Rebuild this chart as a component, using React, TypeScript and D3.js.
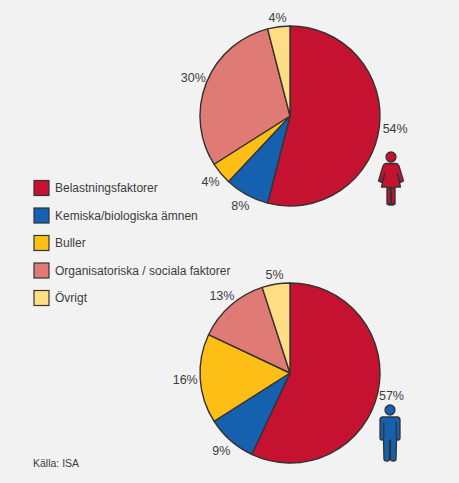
import * as d3 from "d3";

const categories = [
  "Belastningsfaktorer",
  "Kemiska/biologiska ämnen",
  "Buller",
  "Organisatoriska / sociala faktorer",
  "Övrigt",
];
const colors = ["#c41230", "#1660b0", "#fdbf16", "#e07a74", "#fedd84"];
const womenValues = [54, 8, 4, 30, 4];
const menValues = [57, 9, 16, 13, 5];
const source = "Källa: ISA";

const W = 459;
const H = 483;
const INK = "#333333";
const TEXT = "#3c3c3c";
const FONT = "Arial, 'Liberation Sans', sans-serif";

const radius = 90;
const pie = d3.pie<number>().sort(null).value((d) => d);
const arc = d3.arc<d3.PieArcDatum<number>>().innerRadius(0).outerRadius(radius);

const legendY = d3
  .scalePoint<string>()
  .domain(categories)
  .range([188, 298]);

// label offsets are nudged by hand per slice, radial placement alone overlaps the rim
function Pie({
  cx,
  cy,
  values,
  labelR,
}: {
  cx: number;
  cy: number;
  values: number[];
  labelR: number[];
}) {
  const slices = pie(values);
  return (
    <g transform={`translate(${cx},${cy})`}>
      {slices.map((s, i) => (
        <path key={i} d={arc(s) ?? ""} fill={colors[i]} stroke={INK} strokeWidth={1.4} strokeLinejoin="round" />
      ))}
      {slices.map((s, i) => {
        const mid = (s.startAngle + s.endAngle) / 2;
        const r = labelR[i];
        return (
          <text
            key={i}
            x={Math.sin(mid) * r}
            y={-Math.cos(mid) * r}
            textAnchor="middle"
            dominantBaseline="central"
            fontSize={12.5}
            fill={TEXT}
          >
            {`${values[i]}%`}
          </text>
        );
      })}
    </g>
  );
}

function Woman({ x, y }: { x: number; y: number }) {
  return (
    <g transform={`translate(${x},${y})`} fill={colors[0]} stroke={INK} strokeWidth={1.3} strokeLinejoin="round">
      <circle cx={0} cy={6} r={5} />
      <path d="M-5,12.5 L5,12.5 Q7,12.5 8,15 L12.5,30 L9.5,31.5 L6,22 L9.5,36 L3.5,36 L3.5,52 Q3.5,54 1.5,54 L0.5,54 L0.5,36 L-0.5,36 L-0.5,54 L-1.5,54 Q-3.5,54 -3.5,52 L-3.5,36 L-9.5,36 L-6,22 L-9.5,31.5 L-12.5,30 L-8,15 Q-7,12.5 -5,12.5 Z" />
      <path d="M-4,37 V53 H-0.6 V37 Z M0.6,37 V53 H4 V37 Z" />
    </g>
  );
}

function Man({ x, y }: { x: number; y: number }) {
  return (
    <g transform={`translate(${x},${y})`} fill={colors[1]} stroke={INK} strokeWidth={1.3} strokeLinejoin="round">
      <circle cx={0} cy={6} r={5} />
      <path d="M-7,13 L7,13 Q10,13 10,16 L10,34 Q10,36 8,36 Q6.5,36 6.5,34 L6.5,36 L6,55 Q6,57 3,57 Q0.5,57 0.5,55 L0.5,36 L-0.5,36 L-0.5,55 Q-0.5,57 -3,57 Q-6,57 -6,55 L-6.5,36 L-6.5,34 Q-6.5,36 -8,36 Q-10,36 -10,34 L-10,16 Q-10,13 -7,13 Z" />
      <path d="M-6.2,18 V34 M6.2,18 V34" fill="none" />
    </g>
  );
}

export default function App() {
  return (
    <svg
      width={W}
      height={H}
      viewBox={`0 0 ${W} ${H}`}
      style={{ position: "absolute", left: 0, top: 0, background: "#f2f2f2", fontFamily: FONT }}
    >
      <Pie cx={290} cy={116} values={womenValues} labelR={[106, 103, 103, 104, 99]} />
      <Pie cx={290} cy={373} values={menValues} labelR={[104, 104, 105, 103, 99]} />

      {categories.map((c) => (
        <g key={c} transform={`translate(34,${legendY(c)})`}>
          <rect x={0} y={-7.5} width={15} height={15} fill={colors[categories.indexOf(c)]} stroke={INK} strokeWidth={1.2} />
          <text x={21} y={0} dominantBaseline="central" fontSize={12} fill={TEXT}>
            {c}
          </text>
        </g>
      ))}

      <Woman x={391} y={151} />
      <Man x={390} y={404} />

      <text x={33} y={463} dominantBaseline="central" fontSize={10.5} fill={TEXT}>
        {source}
      </text>
    </svg>
  );
}
